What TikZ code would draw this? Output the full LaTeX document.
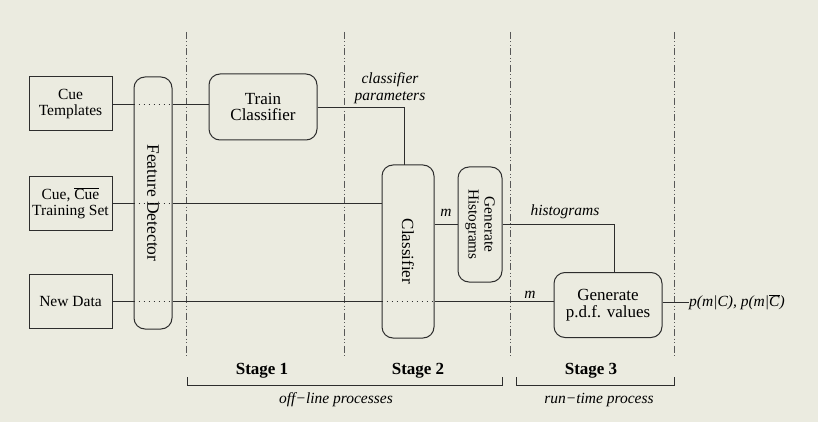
\documentclass[tikz,border=0pt]{standalone}
\usepackage{fontspec}
\setmainfont{Liberation Serif}
\definecolor{bgc}{RGB}{235,235,224}
\definecolor{ink}{RGB}{45,45,45}
\begin{document}
\begin{tikzpicture}[x=1pt,y=-1pt,
  every node/.style={inner sep=0pt,text=black},
  inbox/.style={draw=ink,line width=1pt,minimum width=83pt,minimum height=54pt,align=center,font=\fontsize{15.5}{16}\selectfont},
  procbox/.style={draw=ink,line width=1pt,rounded corners=11pt,align=center,font=\fontsize{17}{16.5}\selectfont},
  conn/.style={draw=ink,line width=0.9pt},
  dotconn/.style={draw=ink,line width=0.9pt,dash pattern=on 1pt off 4pt},
  stagesep/.style={draw=ink!80,line width=0.8pt,dash pattern=on 7pt off 2.5pt on 1pt off 2.5pt on 1pt off 2.5pt},
  lbl/.style={font=\itshape\fontsize{15.5}{18}\selectfont,align=center},
  stagelbl/.style={font=\bfseries\fontsize{17}{18}\selectfont},
  brk/.style={draw=ink,line width=0.9pt}]
\fill[bgc] (0,0) rectangle (818,422);
\useasboundingbox (0,0) rectangle (818,422);

% stage separators
\foreach \x/\n in {186/a,344/b,510/c,674/d}{
  \coordinate (s\n t) at (\x,32);
  \coordinate (s\n b) at (\x,356);
  \draw[stagesep] (s\n t) -- (s\n b);
}

% input boxes
\node[inbox] (ct) at (70.5,104) {Cue\\Templates};
\node[inbox] (cts) at (70.5,203) {Cue, $\overline{\mbox{Cue}}$\\Training Set};
\node[inbox] (nd) at (70.5,301) {New Data};

% process boxes
\node[procbox,minimum width=38pt,minimum height=252pt] (fd) at (153,203) {};
\node[rotate=-90,font=\fontsize{17.5}{18}\selectfont] at (fd.center) {Feature Detector};
\node[procbox,minimum width=108pt,minimum height=66pt] (tc) at (263,107) {Train\\Classifier};
\node[procbox,minimum width=52pt,minimum height=173pt] (cl) at (408,251.5) {};
\node[rotate=-90,font=\fontsize{17}{18}\selectfont] at (cl.center) {Classifier};
\node[procbox,minimum width=44pt,minimum height=115pt] (gh) at (480,224.5) {};
\node[rotate=-90,align=center,font=\fontsize{15.3}{16}\selectfont] at (gh.center) {Generate\\Histograms};
\node[procbox,minimum width=108pt,minimum height=65pt] (pdf) at (608,305) {Generate\\p.d.f. values};

\node[anchor=west,font=\itshape\fontsize{15.5}{18}\selectfont] (out) at (689,302) {p(m|C), p(m|$\overline{\mbox{\itshape C}}$)};

% connectors
\draw[conn] (ct.east) -- (fd.west |- ct.east);
\draw[dotconn] (fd.west |- ct.east) -- (fd.east |- ct.east);
\draw[conn] (fd.east |- ct.east) -- (tc.west |- ct.east);

\draw[conn] (cts.east) -- (fd.west |- cts.east);
\draw[dotconn] (fd.west |- cts.east) -- (fd.east |- cts.east);
\draw[conn] (fd.east |- cts.east) -- (cl.west |- cts.east);

\draw[conn] (nd.east) -- (fd.west |- nd.east);
\draw[dotconn] (fd.west |- nd.east) -- (fd.east |- nd.east);
\draw[conn] (fd.east |- nd.east) -- (cl.west |- nd.east);
\draw[dotconn] (cl.west |- nd.east) -- (cl.east |- nd.east);
\draw[conn] (cl.east |- nd.east) -- (pdf.west |- nd.east);

\coordinate (tcc) at (404,165);
\draw[conn] (tc.east) -- (tc.east -| tcc) -- (tcc);
\draw[conn] (cl.east |- gh.west) -- (gh.west);
\coordinate (ghc) at (614,273);
\draw[conn] (gh.east) -- (gh.east -| ghc) -- (ghc);
\draw[conn] (pdf.east |- out.west) -- (out.west);

% labels
\node[lbl] (cp) at (390,88) {classifier\\[-1pt]parameters};
\node[lbl] (m1) at (446,213) {m};
\node[lbl] (hg) at (565,212) {histograms};
\node[lbl] (m2) at (530,295) {m};

% stages
\node[stagelbl] (st1) at (262,371) {Stage 1};
\node[stagelbl] (st2) at (418,371) {Stage 2};
\node[stagelbl] (st3) at (591,371) {Stage 3};
\coordinate (b1a) at (187,377); \coordinate (b1b) at (502,377);
\coordinate (b2a) at (516,377); \coordinate (b2b) at (674,377);
\draw[brk] (b1a) -- ++(0,8) -| (b1b);
\draw[brk] (b2a) -- ++(0,8) -| (b2b);
\node[lbl] (off) at (336,400) {off−line processes};
\node[lbl] (run) at (599,400) {run−time process};
\end{tikzpicture}
\end{document}
